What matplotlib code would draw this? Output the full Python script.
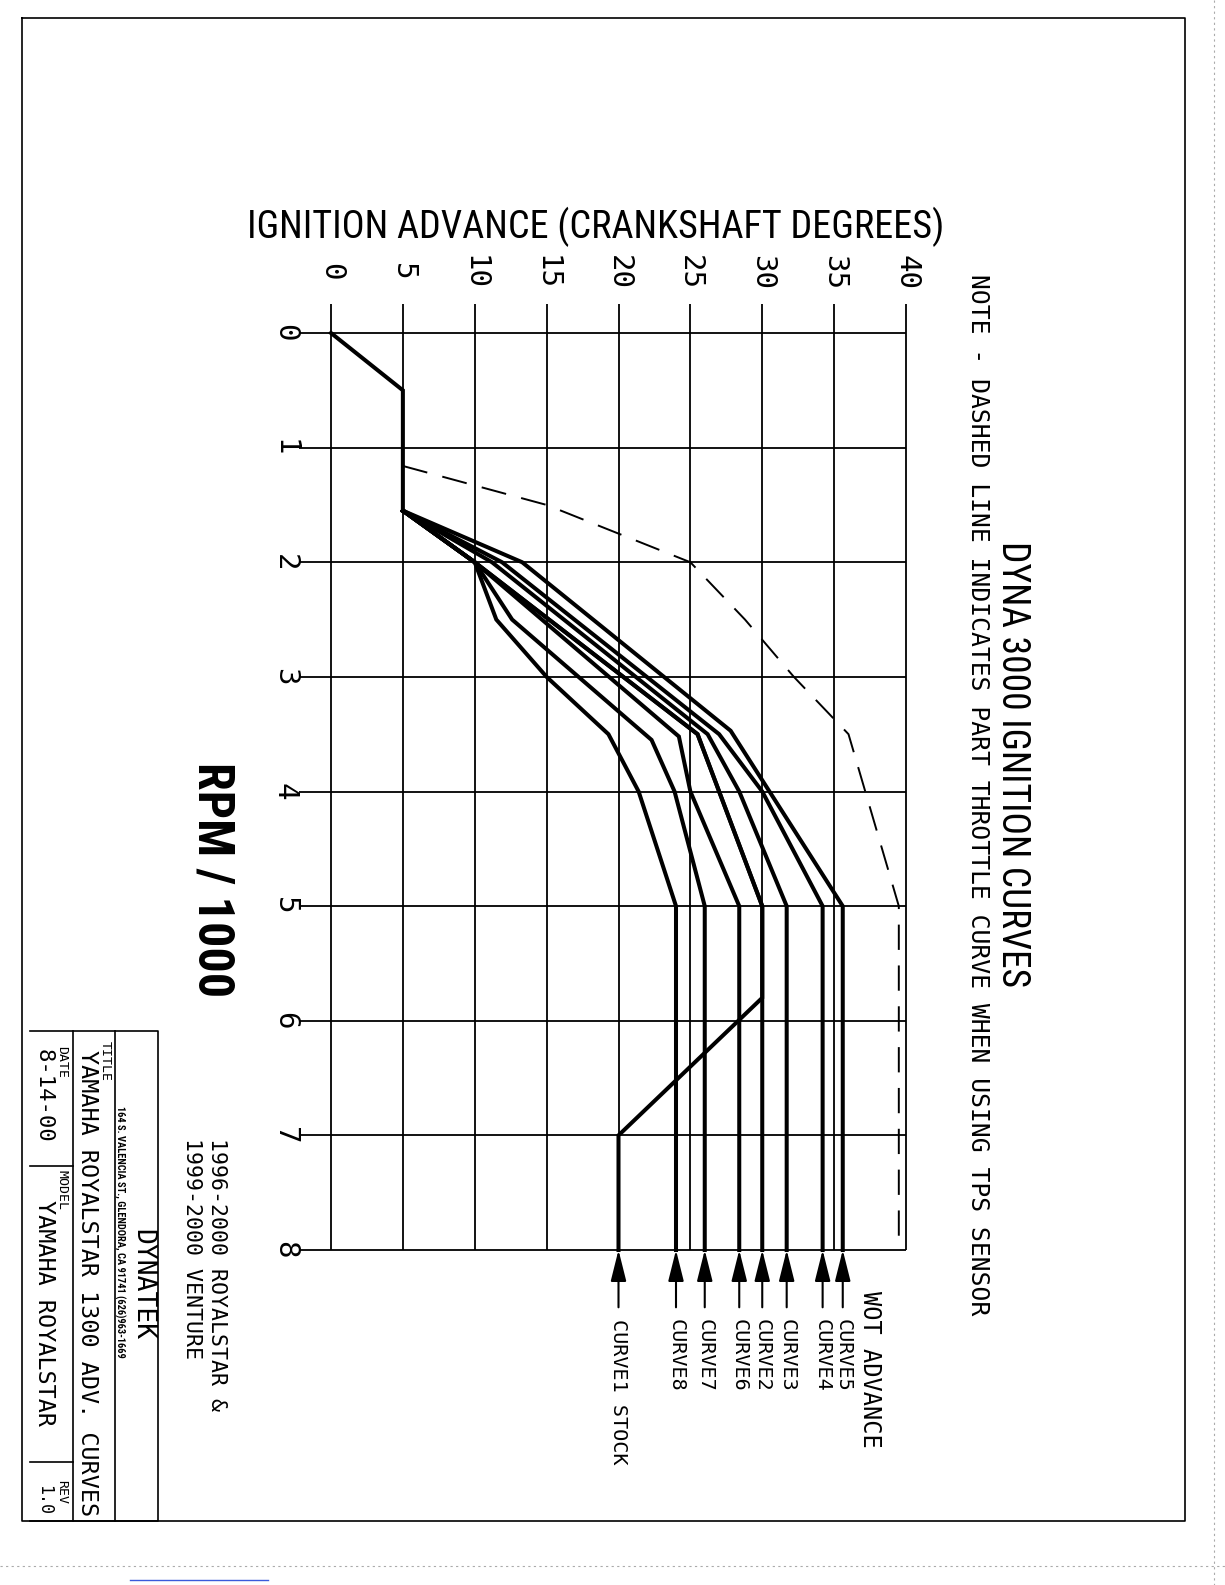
import matplotlib
matplotlib.use("Agg")
import matplotlib.pyplot as plt
from matplotlib import font_manager

# --------------------------------
# DATA  (rpm / 1000, advance in crankshaft degrees)
# --------------------------------

rpm_ticks = [0, 1, 2, 3, 4, 5, 6, 7, 8]
adv_ticks = [0, 5, 10, 15, 20, 25, 30, 35, 40]

start_rpm = [0.0, 0.5, 1.55]
start_adv = [0, 5, 5]

c8_rpm = [2.0, 2.5, 3.0, 3.5, 4.0, 5.0, 8.0]
c8_adv = [10, 11.5, 15, 19.3, 21.4, 24.0, 24.0]

c7_rpm = [2.0, 2.5, 3.55, 4.0, 5.0, 8.0]
c7_adv = [10, 12.6, 22.3, 23.9, 26.0, 26.0]

c6_rpm = [2.0, 3.52, 4.0, 5.0, 8.0]
c6_adv = [10, 24.2, 25.0, 28.4, 28.4]

c2_rpm = [2.0, 3.5, 4.0, 5.0, 8.0]
c2_adv = [10, 25.5, 27.0, 30.0, 30.0]

c3_rpm = [2.0, 3.5, 4.0, 5.0, 8.0]
c3_adv = [11.2, 26.2, 28.4, 31.7, 31.7]

c4_rpm = [2.0, 3.5, 4.0, 5.0, 8.0]
c4_adv = [11.9, 27.0, 30.0, 34.2, 34.2]

c5_rpm = [2.0, 3.47, 5.0, 8.0]
c5_adv = [13.3, 27.8, 35.6, 35.6]

c1_rpm = [2.0, 3.5, 4.0, 5.0, 5.8, 7.0, 8.0]
c1_adv = [10, 25.5, 27.0, 30.0, 30.0, 20.0, 20.0]

# part throttle (dashed) curve
pt_rpm = [1.16, 1.5, 2.0, 2.5, 3.0, 3.5, 5.0, 8.0]
pt_adv = [5, 15, 25, 28.8, 32.2, 36.0, 39.5, 39.5]

curve_names = ["CURVE1 STOCK", "CURVE8", "CURVE7", "CURVE6",
               "CURVE2", "CURVE3", "CURVE4", "CURVE5"]
curve_end_adv = [20.0, 24.0, 26.0, 28.4, 30.0, 31.7, 34.2, 35.6]

MONO = ["DejaVu Sans Mono"]

# pick a condensed sans if one is installed
names = {f.name for f in font_manager.fontManager.ttflist}
narrow_pick = [n for n in ["Liberation Sans Narrow", "DejaVu Sans Condensed",
                           "Roboto Condensed", "Open Sans Condensed",
                           "Noto Sans Condensed"] if n in names]
NARROW = narrow_pick[:1] + ["DejaVu Sans"]
condensed = bool(narrow_pick)

# --------------------------------
# FIGURE
# --------------------------------

W, H = 1225, 1585
fig = plt.figure(figsize=(W / 100, H / 100), dpi=100)

page = fig.add_axes([0, 0, 1, 1])
page.set_xlim(0, W)
page.set_ylim(H, 0)
page.axis("off")

ax = fig.add_axes([331 / W, 1 - 1250 / H, 575 / W, 917 / H])
ax.set_xlim(0, 40)
ax.set_ylim(8, 0)
ax.axis("off")

# grid with tick stubs outside the plot
ax.vlines(adv_ticks, -0.25, 8, color="black", lw=1.3, clip_on=False)
ax.hlines(rpm_ticks, -2.2, 40, color="black", lw=1.3, clip_on=False)

for a in adv_ticks:
    ax.text(a, -0.53, str(a), rotation=-90, ha="center", va="center",
            fontsize=21, family=MONO, clip_on=False)
for r in rpm_ticks:
    ax.text(-3.2, r, str(r), rotation=-90, ha="center", va="center",
            fontsize=21, family=MONO, clip_on=False)

# curves
kw = dict(color="black", lw=2.9, solid_joinstyle="miter", clip_on=False)
ax.plot(start_adv, start_rpm, **kw)
for rr, aa in [(c1_rpm, c1_adv), (c2_rpm, c2_adv), (c3_rpm, c3_adv),
               (c4_rpm, c4_adv), (c5_rpm, c5_adv), (c6_rpm, c6_adv),
               (c7_rpm, c7_adv), (c8_rpm, c8_adv)]:
    ax.plot([5] + aa, [1.55] + rr, **kw)

ax.plot(pt_adv, pt_rpm, color="black", lw=1.4, linestyle=(0, (13, 8)),
        clip_on=False)

# arrows + curve labels
for name, a in zip(curve_names, curve_end_adv):
    ax.annotate("", xy=(a, 8.0), xytext=(a, 8.5),
                arrowprops=dict(arrowstyle="-|>,head_length=1.2,head_width=0.3",
                                color="black", lw=1.5, mutation_scale=16,
                                shrinkA=0, shrinkB=0),
                annotation_clip=False)
    ax.text(a, 8.6, name, rotation=-90, ha="center", va="top",
            fontsize=14.5, family=MONO, clip_on=False)
ax.text(37.5, 8.36, "WOT ADVANCE", rotation=-90, ha="center", va="top",
        fontsize=17, family=MONO, clip_on=False)

# --------------------------------
# TITLES / NOTES
# --------------------------------

if condensed:
    s_title, s_dyna, s_rpm = 27.5, 27, 36
else:
    s_title, s_dyna, s_rpm = 22, 21.5, 27

page.text(596, 227, "IGNITION ADVANCE (CRANKSHAFT DEGREES)", ha="center",
          va="center", fontsize=s_title, family=NARROW, fontstretch="condensed")
page.text(1013, 764, "DYNA 3000 IGNITION CURVES", rotation=-90, ha="center",
          va="center", fontsize=s_dyna, family=NARROW, fontstretch="condensed")
page.text(978, 795,
          "NOTE - DASHED LINE INDICATES PART THROTTLE CURVE WHEN USING TPS SENSOR",
          rotation=-90, ha="center", va="center", fontsize=17.8, family=MONO)
page.text(212, 880, "RPM / 1000", rotation=-90, ha="center", va="center",
          fontsize=s_rpm, family=NARROW, fontweight="bold",
          fontstretch="condensed")
page.text(217, 1138, "1996-2000 ROYALSTAR &", rotation=-90, ha="center",
          va="top", fontsize=15.5, family=MONO)
page.text(192, 1138, "1999-2000 VENTURE", rotation=-90, ha="center",
          va="top", fontsize=15.5, family=MONO)

# --------------------------------
# BORDER + TITLE BLOCK
# --------------------------------

page.plot([22, 1185, 1185, 22, 22], [18, 18, 1521, 1521, 18],
          color="black", lw=1.2)

# scan edges
page.plot([1214, 1214], [0, H], color="#aaaaaa", lw=0.8, linestyle=(0, (2, 3)))
page.plot([0, W], [1566, 1566], color="#aaaaaa", lw=0.8, linestyle=(0, (2, 3)))
page.plot([130, 268], [1580, 1580], color="#3b5bdb", lw=1.0)

bx0, bx1, by0, by1 = 30, 158, 1031, 1521
page.plot([bx0, bx1, bx1, bx0], [by0, by0, by1, by1], color="black", lw=1.2)
page.plot([73, 73], [by0, by1], color="black", lw=1.2)
page.plot([115, 115], [by0, by1], color="black", lw=1.2)
page.plot([bx0, 73], [1166, 1166], color="black", lw=1.2)
page.plot([bx0, 73], [1462, 1462], color="black", lw=1.2)

page.text(142, 1285, "DYNATEK", rotation=-90, ha="center", va="center",
          fontsize=19, family=MONO)
page.text(120, 1106, "164 S. VALENCIA ST., GLENDORA, CA 91741 (626)963-1669",
          rotation=-90, ha="center", va="top", fontsize=7.5, family=NARROW,
          fontweight="bold")
page.text(105, 1041, "TITLE", rotation=-90, ha="center", va="top",
          fontsize=9.5, family=MONO)
page.text(87, 1050, "YAMAHA ROYALSTAR 1300 ADV. CURVES", rotation=-90,
          ha="center", va="top", fontsize=16.8, family=MONO)
page.text(62, 1046, "DATE", rotation=-90, ha="center", va="top",
          fontsize=9.5, family=MONO)
page.text(44, 1049, "8-14-00", rotation=-90, ha="center", va="top",
          fontsize=16, family=MONO)
page.text(62, 1170, "MODEL", rotation=-90, ha="center", va="top",
          fontsize=9.5, family=MONO)
page.text(44, 1200, "YAMAHA ROYALSTAR", rotation=-90, ha="center", va="top",
          fontsize=16.8, family=MONO)
page.text(62, 1480, "REV", rotation=-90, ha="center", va="top",
          fontsize=9.5, family=MONO)
page.text(44, 1485, "1.0", rotation=-90, ha="center", va="top",
          fontsize=12, family=MONO)

fig.savefig("out.png", dpi=100, facecolor="white")
